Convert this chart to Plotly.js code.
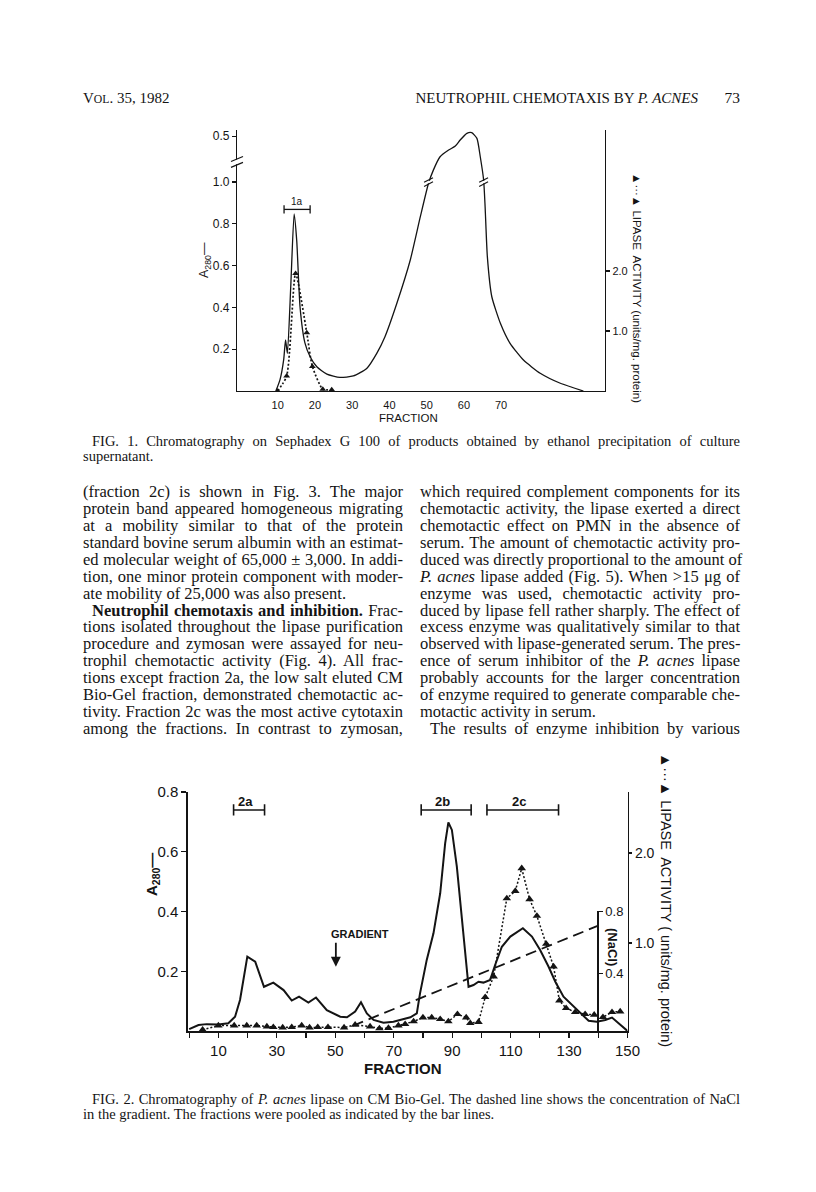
<!DOCTYPE html>
<html><head><meta charset="utf-8">
<script src="https://cdn.plot.ly/plotly-3.0.1.min.js"></script>
<style>
body{margin:0;background:#fff;}
#page{position:relative;width:816px;height:1192px;overflow:hidden;background:#fff;}
#plot{position:absolute;left:0;top:0;width:816px;height:1192px;}
.ln{position:absolute;font-family:"Liberation Serif","Times New Roman",serif;white-space:nowrap;color:#141414;line-height:18px;height:18px;overflow:visible;}
.j{text-align:justify;text-align-last:justify;}
.sc{font-size:0.78em;}
</style></head><body>
<div id="page"><div id="plot"></div><div id="txt"></div></div>
<script>
// ---------- FIG. 1 data (Sephadex G 100) ----------
const fig1Fraction = [9.5, 10.6, 11.6, 12.1, 12.6, 13.5, 14.4, 15.1, 16.0, 17.3, 18.7, 20.5, 23.2, 26.7, 30.3, 33.9, 36.6, 38.8, 42.0, 45.6, 48.3, 50.5, 51.8, 53.6, 55.9, 57.7, 59.0, 60.8, 62.1, 63.5, 64.4, 65.3, 65.7, 66.3, 67.5, 69.8, 72.4, 76.0, 80.5, 85.9, 92.1];
const fig1A280 = [0, 0.053, 0.15, 0.244, 0.18, 0.50, 0.847, 0.72, 0.40, 0.23, 0.164, 0.116, 0.081, 0.065, 0.072, 0.108, 0.18, 0.26, 0.42, 0.627, 0.834, 0.994, 1.057, 1.121, 1.153, 1.172, 1.201, 1.233, 1.236, 1.209, 1.121, 1.01, 0.882, 0.643, 0.451, 0.324, 0.228, 0.148, 0.085, 0.037, 0];
const fig1LipFraction = [10, 12.4, 14.8, 17.8, 19.3, 22.1, 24.5];
const fig1Lipase = [0, 0.25, 1.96, 0.97, 0.41, 0.03, 0.02];
const fig1XTicks = [10, 20, 30, 40, 50, 60, 70];
const fig1YTicks = [0.2, 0.4, 0.6, 0.8, 1.0, 1.22];
const fig1YTickText = ['0.2', '0.4', '0.6', '0.8', '1.0', '0.5'];
const fig1LipTicks = [1, 2];
const fig1LipTickText = ['1.0', '2.0'];
const fig1PoolName = ['1a'];
const fig1PoolStart = [11.7];
const fig1PoolEnd = [18.7];
const fig1PoolLevel = [0.869];
const fig1BreakFraction = [50.5, 65.3];
const fig1BreakLevel = 1.0;
const fig1AxisBreak = 1.096;

// ---------- FIG. 2 data (CM Bio-Gel) ----------
const fig2Fraction = [0, 3.2, 6.0, 10, 13.4, 15.7, 17.4, 18.8, 19.9, 22.6, 25.6, 28.8, 32.3, 35.1, 37.6, 40.8, 43.4, 47.1, 51.7, 54, 56.8, 58.8, 60.8, 63.1, 66.5, 69.9, 73.4, 75.7, 77.9, 79, 81.3, 83.6, 85.9, 87.6, 88.7, 89.9, 91.6, 93.3, 94.8, 95.6, 97.3, 99, 100.7, 103, 104.7, 107, 109.9, 114.2, 117.3, 120.1, 123, 125.3, 128.1, 131.6, 133.8, 136.7, 139.5, 142.4, 144.7, 146.4, 148.7, 150];
const fig2A280 = [0.006, 0.020, 0.023, 0.022, 0.026, 0.048, 0.104, 0.193, 0.249, 0.232, 0.148, 0.162, 0.137, 0.102, 0.115, 0.095, 0.112, 0.070, 0.048, 0.046, 0.065, 0.096, 0.059, 0.037, 0.028, 0.031, 0.039, 0.046, 0.059, 0.126, 0.238, 0.327, 0.461, 0.628, 0.698, 0.673, 0.550, 0.372, 0.215, 0.148, 0.154, 0.165, 0.162, 0.171, 0.221, 0.282, 0.316, 0.344, 0.316, 0.271, 0.215, 0.165, 0.115, 0.081, 0.059, 0.034, 0.031, 0.037, 0.045, 0.031, 0.011, 0];
const fig2LipFraction = [4.6, 10, 15.4, 19.7, 23.1, 26.6, 28.8, 32, 35.1, 38.5, 41.2, 44, 47.5, 53, 56.8, 61.9, 65.1, 68.2, 71.6, 73.9, 76.8, 80, 83, 85.9, 88.7, 91.8, 94.8, 96.2, 99, 101.3, 104.2, 108.7, 111.6, 113.8, 116.5, 119, 122.2, 124.7, 126.7, 129, 132.1, 135.5, 138.6, 141.6, 144.7, 147.5];
const fig2Lipase = [0.033, 0.081, 0.081, 0.081, 0.081, 0.070, 0.063, 0.059, 0.063, 0.081, 0.059, 0.063, 0.063, 0.059, 0.089, 0.070, 0.048, 0.052, 0.081, 0.096, 0.126, 0.170, 0.170, 0.152, 0.126, 0.207, 0.170, 0.107, 0.119, 0.396, 0.626, 1.496, 1.578, 1.830, 1.485, 1.300, 0.989, 0.737, 0.359, 0.274, 0.230, 0.207, 0.200, 0.174, 0.230, 0.237];
const fig2NaClFraction = [56, 140];
const fig2NaCl = [0.06, 0.71];
const fig2XTicks = [0, 10, 20, 30, 40, 50, 60, 70, 80, 90, 100, 110, 120, 130, 140, 150];
const fig2XTickText = ['', '10', '', '30', '', '50', '', '70', '', '90', '', '110', '', '130', '', '150'];
const fig2YTicks = [0.2, 0.4, 0.6, 0.8];
const fig2YTickText = ['0.2', '0.4', '0.6', '0.8'];
const fig2LipTicks = [1, 2];
const fig2LipTickText = ['1.0', '2.0'];
const fig2NaClTicks = [0.4, 0.8];
const fig2NaClTickText = ['0.4', '0.8'];
const fig2PoolName = ['2a', '2b', '2c'];
const fig2PoolStart = [15.2, 79.4, 101.9];
const fig2PoolEnd = [25.8, 96.5, 126.4];
const fig2PoolLevel = [0.74, 0.74, 0.74];
const gradientFraction = 50.2;

// ---------- page geometry helpers ----------
const W = 816, H = 1192;
const PX = p => p / W;
const PY = p => 1 - p / H;
const INK = '#141414';
const SANS = 'Liberation Sans, Arial, sans-serif';

const traces = [];
traces.push({x: fig1Fraction, y: fig1A280, xaxis: 'x', yaxis: 'y', mode: 'lines',
  line: {color: INK, width: 1.3, shape: 'spline', smoothing: 0.55}, hoverinfo: 'skip'});
traces.push({x: fig1LipFraction, y: fig1Lipase, xaxis: 'x', yaxis: 'y2', mode: 'lines+markers',
  line: {color: INK, width: 1.7, dash: '2px,2px', shape: 'spline', smoothing: 0.6},
  marker: {symbol: 'triangle-up', size: 6, color: INK}, hoverinfo: 'skip'});
fig1PoolName.forEach((n, i) => traces.push({x: [fig1PoolStart[i], fig1PoolEnd[i]], y: [fig1PoolLevel[i], fig1PoolLevel[i]],
  xaxis: 'x', yaxis: 'y', mode: 'lines+markers', line: {color: INK, width: 1.3},
  marker: {symbol: 'line-ns-open', size: 6, color: INK, line: {width: 1.3, color: INK}}, hoverinfo: 'skip'}));

traces.push({x: fig2Fraction, y: fig2A280, xaxis: 'x2', yaxis: 'y3', mode: 'lines',
  line: {color: INK, width: 2}, hoverinfo: 'skip'});
traces.push({x: fig2LipFraction, y: fig2Lipase, xaxis: 'x2', yaxis: 'y4', mode: 'lines+markers',
  line: {color: INK, width: 1.5, dash: '2px,2px'},
  marker: {symbol: 'triangle-up', size: 7.5, color: INK}, hoverinfo: 'skip'});
traces.push({x: fig2NaClFraction, y: fig2NaCl, xaxis: 'x2', yaxis: 'y5', mode: 'lines',
  line: {color: INK, width: 1.8, dash: '11px,6px'}, hoverinfo: 'skip'});
fig2PoolName.forEach((n, i) => traces.push({x: [fig2PoolStart[i], fig2PoolEnd[i]], y: [fig2PoolLevel[i], fig2PoolLevel[i]],
  xaxis: 'x2', yaxis: 'y3', mode: 'lines+markers', line: {color: INK, width: 1.6},
  marker: {symbol: 'line-ns-open', size: 8, color: INK, line: {width: 1.6, color: INK}}, hoverinfo: 'skip'}));

const axBase = {showgrid: false, zeroline: false, showline: true, linecolor: INK, tickcolor: INK,
  fixedrange: true, tickfont: {family: SANS, color: INK}};

const shapes = [];
// left-axis break on Fig. 1
shapes.push({type: 'rect', xref: 'paper', yref: 'y', x0: PX(232), x1: PX(242), y0: fig1AxisBreak - 0.011, y1: fig1AxisBreak + 0.011,
  fillcolor: '#fff', line: {width: 0}, layer: 'above'});
[-0.014, 0.014].forEach(d => shapes.push({type: 'line', xref: 'paper', yref: 'y', x0: PX(231), x1: PX(243),
  y0: fig1AxisBreak + d - 0.012, y1: fig1AxisBreak + d + 0.012, line: {color: INK, width: 1.2}, layer: 'above'}));
// curve breaks on Fig. 1
fig1BreakFraction.forEach(b => {
  shapes.push({type: 'rect', xref: 'x', yref: 'y', x0: b - 1.0, x1: b + 1.0, y0: fig1BreakLevel - 0.006, y1: fig1BreakLevel + 0.006,
    fillcolor: '#fff', line: {width: 0}, layer: 'above'});
  [-0.01, 0.01].forEach(d => shapes.push({type: 'line', xref: 'x', yref: 'y', x0: b - 1.2, x1: b + 1.2,
    y0: fig1BreakLevel + d - 0.011, y1: fig1BreakLevel + d + 0.011, line: {color: INK, width: 1.1}, layer: 'above'}));
});

const ann = [];
function A(o) { ann.push(Object.assign({showarrow: false, xanchor: 'center', yanchor: 'middle', font: {family: SANS, color: INK, size: 12}}, o)); }
// Fig. 1 labels
A({text: 'A<sub>280</sub>—', xref: 'paper', yref: 'paper', x: PX(205), y: PY(260), textangle: -90, font: {family: SANS, color: INK, size: 12.5}});
A({text: '▲···▲ LIPASE  ACTIVITY (units/mg. protein)', xref: 'paper', yref: 'paper', x: PX(637), y: PY(288), textangle: 90, font: {family: SANS, color: INK, size: 11.5}});
A({text: 'FRACTION', xref: 'paper', yref: 'paper', x: PX(408), y: PY(418), font: {family: SANS, color: INK, size: 11.5}});
fig1PoolName.forEach((n, i) => A({text: n, xref: 'x', yref: 'y', x: (fig1PoolStart[i] + fig1PoolEnd[i]) / 2, y: fig1PoolLevel[i] + 0.04, font: {family: SANS, color: INK, size: 10}}));
// Fig. 2 labels
A({text: '<b>A<sub>280</sub>—</b>', xref: 'paper', yref: 'paper', x: PX(152), y: PY(875), textangle: -90, font: {family: SANS, color: INK, size: 15}});
A({text: '▲···▲ LIPASE  ACTIVITY ( units/mg. protein)', xref: 'paper', yref: 'paper', x: PX(666), y: PY(900), textangle: 90, font: {family: SANS, color: INK, size: 14.5}});
A({text: '<b>(NaCl)</b>', xref: 'paper', yref: 'paper', x: PX(613), y: PY(947), textangle: 90, font: {family: SANS, color: INK, size: 13}});
A({text: '<b>FRACTION</b>', xref: 'paper', yref: 'paper', x: PX(403), y: PY(1068), font: {family: SANS, color: INK, size: 15}});
A({text: '<b>GRADIENT</b>', xref: 'x2', yref: 'y3', x: gradientFraction + 8.2, y: 0.324, font: {family: SANS, color: INK, size: 11}});
ann.push({text: '', xref: 'x2', yref: 'y3', x: gradientFraction, y: 0.215, axref: 'x2', ayref: 'y3', ax: gradientFraction, ay: 0.30,
  showarrow: true, arrowhead: 2, arrowsize: 1.1, arrowwidth: 1.8, arrowcolor: INK});
fig2PoolName.forEach((n, i) => A({text: '<b>' + n + '</b>', xref: 'x2', yref: 'y3', x: (fig2PoolStart[i] + fig2PoolEnd[i]) / 2 - 1.2, y: fig2PoolLevel[i] + 0.028, font: {family: SANS, color: INK, size: 13}}));

const layout = {
  width: W, height: H, margin: {l: 0, r: 0, t: 0, b: 0}, paper_bgcolor: '#fff', plot_bgcolor: 'rgba(0,0,0,0)',
  showlegend: false, font: {family: SANS, color: INK},
  xaxis: Object.assign({}, axBase, {domain: [PX(237), PX(605)], range: [-0.94, 97.9], anchor: 'y', linewidth: 1.2,
    tickmode: 'array', tickvals: fig1XTicks, ticks: '', ticklabelstandoff: 4, tickfont: {family: SANS, color: INK, size: 11}}),
  yaxis: Object.assign({}, axBase, {domain: [PY(391), PY(130)], range: [0, 1.249], anchor: 'x', linewidth: 1.2,
    tickmode: 'array', tickvals: fig1YTicks, ticktext: fig1YTickText, ticks: 'outside', ticklen: 4, tickwidth: 1.1,
    tickfont: {family: SANS, color: INK, size: 12}}),
  yaxis2: Object.assign({}, axBase, {overlaying: 'y', side: 'right', anchor: 'x', range: [0, 4.35], linewidth: 1.2,
    tickmode: 'array', tickvals: fig1LipTicks, ticktext: fig1LipTickText, ticks: 'outside', ticklen: 4, tickwidth: 1.1,
    tickfont: {family: SANS, color: INK, size: 11}}),
  xaxis2: Object.assign({}, axBase, {domain: [PX(188), PX(627.5)], range: [-0.4, 150], anchor: 'y3', linewidth: 1.6,
    tickmode: 'array', tickvals: fig2XTicks, ticktext: fig2XTickText, ticks: 'outside', ticklen: 5, tickwidth: 1.3,
    tickfont: {family: SANS, color: INK, size: 15}}),
  yaxis3: Object.assign({}, axBase, {domain: [PY(1031), PY(792)], range: [0, 0.8], anchor: 'x2', linewidth: 1.6,
    tickmode: 'array', tickvals: fig2YTicks, ticktext: fig2YTickText, ticks: 'outside', ticklen: 5, tickwidth: 1.3,
    tickfont: {family: SANS, color: INK, size: 15}}),
  yaxis4: Object.assign({}, axBase, {overlaying: 'y3', side: 'right', anchor: 'x2', range: [0.02, 2.68], linewidth: 1.6,
    tickmode: 'array', tickvals: fig2LipTicks, ticktext: fig2LipTickText, ticks: 'outside', ticklen: 3, tickwidth: 1.3,
    ticklabelstandoff: 0, tickfont: {family: SANS, color: INK, size: 14}}),
  yaxis5: Object.assign({}, axBase, {anchor: 'free', position: PX(597.3), side: 'right', domain: [PY(1031), PY(911)],
    range: [0.026, 0.805], linewidth: 1.4, tickmode: 'array', tickvals: fig2NaClTicks, ticktext: fig2NaClTickText,
    ticks: 'outside', ticklen: 4, tickwidth: 1.2, tickfont: {family: SANS, color: INK, size: 13}}),
  shapes: shapes, annotations: ann
};
Plotly.newPlot('plot', traces, layout, {staticPlot: true, displayModeBar: false});

// ---------- page text ----------
const headerLeft = 'V<span class="sc">OL</span>. 35, 1982';
const headerTitle = 'NEUTROPHIL CHEMOTAXIS BY <i>P. ACNES</i>';
const pageNumber = '73';
const caption1 = ['FIG. 1. Chromatography on Sephadex G 100 of products obtained by ethanol precipitation of culture', 'supernatant.'];
const caption2 = ['FIG. 2. Chromatography of <i>P. acnes</i> lipase on CM Bio-Gel. The dashed line shows the concentration of NaCl', 'in the gradient. The fractions were pooled as indicated by the bar lines.'];
const leftLines = [
  '(fraction 2c) is shown in Fig. 3. The major',
  'protein band appeared homogeneous migrating',
  'at a mobility similar to that of the protein',
  'standard bovine serum albumin with an estimat-',
  'ed molecular weight of 65,000 ± 3,000. In addi-',
  'tion, one minor protein component with moder-',
  'ate mobility of 25,000 was also present.',
  '<b>Neutrophil chemotaxis and inhibition.</b> Frac-',
  'tions isolated throughout the lipase purification',
  'procedure and zymosan were assayed for neu-',
  'trophil chemotactic activity (Fig. 4). All frac-',
  'tions except fraction 2a, the low salt eluted CM',
  'Bio-Gel fraction, demonstrated chemotactic ac-',
  'tivity. Fraction 2c was the most active cytotaxin',
  'among the fractions. In contrast to zymosan,'];
const leftIndent = [0,0,0,0,0,0,0,1,0,0,0,0,0,0,0];
const leftRagged = [0,0,0,0,0,0,1,0,0,0,0,0,0,0,0];
const rightLines = [
  'which required complement components for its',
  'chemotactic activity, the lipase exerted a direct',
  'chemotactic effect on PMN in the absence of',
  'serum. The amount of chemotactic activity pro-',
  'duced was directly proportional to the amount of',
  '<i>P. acnes</i> lipase added (Fig. 5). When &gt;15 μg of',
  'enzyme was used, chemotactic activity pro-',
  'duced by lipase fell rather sharply. The effect of',
  'excess enzyme was qualitatively similar to that',
  'observed with lipase-generated serum. The pres-',
  'ence of serum inhibitor of the <i>P. acnes</i> lipase',
  'probably accounts for the larger concentration',
  'of enzyme required to generate comparable che-',
  'motactic activity in serum.',
  'The results of enzyme inhibition by various'];
const rightIndent = [0,0,0,0,0,0,0,0,0,0,0,0,0,0,1];
const rightRagged = [0,0,0,0,0,0,0,0,0,0,0,0,0,1,0];

const txt = document.getElementById('txt');
function line(html, left, cy, width, just, size, extra) {
  const d = document.createElement('div');
  d.className = 'ln' + (just ? ' j' : '');
  d.style.left = left + 'px';
  d.style.top = (cy - 9) + 'px';
  if (width) d.style.width = width + 'px';
  d.style.fontSize = size + 'px';
  if (extra) Object.assign(d.style, extra);
  d.innerHTML = html;
  txt.appendChild(d);
}
line(headerLeft, 83, 98, 0, false, 15);
line(headerTitle, 380, 98, 318, false, 15, {textAlign: 'right'});
line(pageNumber, 700, 98, 40, false, 15.5, {textAlign: 'right'});
line(caption1[0], 92, 441, 648, true, 14.5);
line(caption1[1], 83, 456, 0, false, 14.5);
line(caption2[0], 92, 1099, 648, true, 14.5);
line(caption2[1], 83, 1114, 0, false, 14.5);
const LS = 16.93, L0 = 492;
leftLines.forEach((s, i) => {
  const ind = leftIndent[i] ? 9 : 0;
  line(s, 83 + ind, L0 + i * LS, leftRagged[i] ? 0 : 320 - ind, !leftRagged[i], 16.5);
});
rightLines.forEach((s, i) => {
  const ind = rightIndent[i] ? 10 : 0;
  line(s, 420 + ind, L0 + i * LS, rightRagged[i] ? 0 : 320 - ind, !rightRagged[i], 16.5);
});
</script>
</body></html>
